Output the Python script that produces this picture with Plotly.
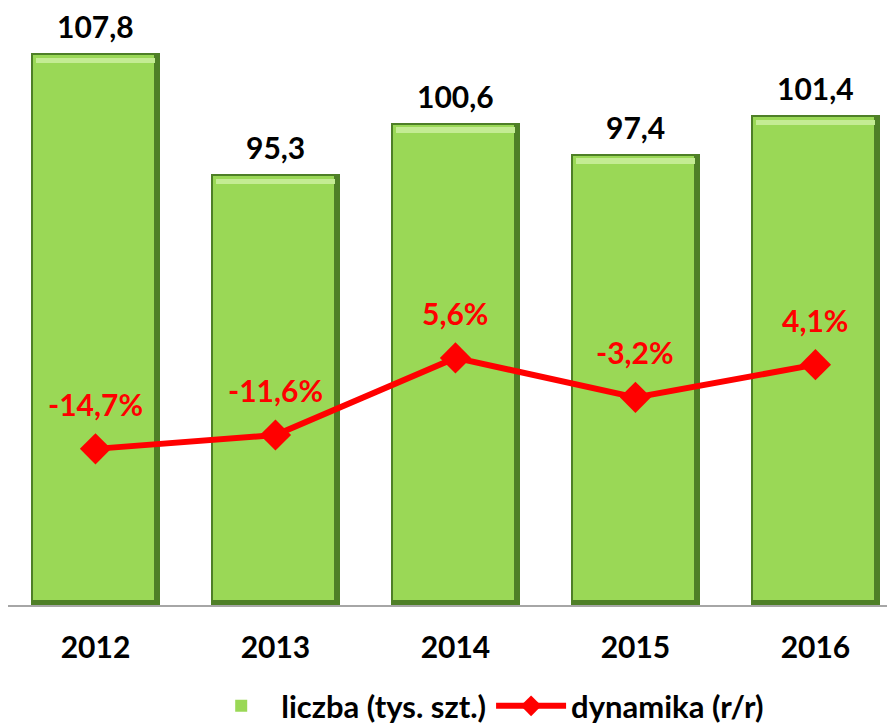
import plotly.graph_objects as go

years = ["2012", "2013", "2014", "2015", "2016"]
counts = [107.8, 95.3, 100.6, 97.4, 101.4]
growth = [-14.7, -11.6, 5.6, -3.2, 4.1]

Y_MIN, Y_MAX = 50.8, 112.27
Y2_MIN, Y2_MAX = -49.55, 83.26
BAR_W = 0.717
FONT = "Lato"

def fmt(v, suffix=""):
    return f"{v:.1f}".replace(".", ",") + suffix

fig = go.Figure()

# dark outer bar (edge / shadow)
fig.add_trace(go.Bar(x=years, y=[c - Y_MIN for c in counts], base=Y_MIN,
                     width=BAR_W, marker=dict(color="#4E7F27", line=dict(width=0)),
                     showlegend=False, hoverinfo="skip"))
# main body
fig.add_trace(go.Bar(x=years, y=[c - Y_MIN - 0.75 for c in counts], base=Y_MIN + 0.55,
                     width=BAR_W - 0.045, offset=-BAR_W / 2 + 0.012,
                     marker=dict(color="#9AD856", line=dict(width=0)),
                     name="liczba (tys. szt.)", showlegend=True))
# top highlight
fig.add_trace(go.Bar(x=years, y=[0.55] * len(years), base=[c - 1.0 for c in counts],
                     width=BAR_W - 0.06, offset=-BAR_W / 2 + 0.03,
                     marker=dict(color="#C4EC93", line=dict(width=0)),
                     showlegend=False, hoverinfo="skip"))

fig.add_trace(go.Scatter(x=years, y=growth, yaxis="y2", mode="lines+markers",
                         line=dict(color="#FF0000", width=6),
                         marker=dict(symbol="diamond", size=24, color="#FF0000"),
                         name="dynamika (r/r)"))

annotations = []
for i, c in enumerate(counts):
    annotations.append(dict(x=i, y=c, xref="x", yref="y", text="<b>" + fmt(c) + "</b>",
                            showarrow=False, yshift=27,
                            font=dict(family=FONT, size=30, color="#000000")))
for i, g in enumerate(growth):
    annotations.append(dict(x=i, y=g, xref="x", yref="y2", text="<b>" + fmt(g, "%") + "</b>",
                            showarrow=False, yshift=45,
                            font=dict(family=FONT, size=30, color="#FF0000")))

hidden_axis = dict(showgrid=False, zeroline=False, showline=False, showticklabels=False, ticks="")

fig.update_layout(
    width=887, height=717,
    margin=dict(l=0, r=0, t=2, b=120, autoexpand=False),
    paper_bgcolor="white", plot_bgcolor="white",
    barmode="overlay", bargap=0,
    showlegend=True,
    legend=dict(orientation="h", x=0.538, xanchor="center", y=-0.17, yanchor="middle",
                font=dict(family=FONT, size=31, color="#000000", weight="bold"),
                itemwidth=70, traceorder="normal"),
    xaxis=dict(type="category", range=[-0.486, 4.442], showgrid=False, showline=True,
               linecolor="#A6A6A6", linewidth=2, ticks="outside", ticklen=15,
               tickcolor="rgba(0,0,0,0)",
               tickfont=dict(family=FONT, size=30, color="#000000", weight="bold")),
    yaxis=dict(range=[Y_MIN, Y_MAX], **hidden_axis),
    yaxis2=dict(range=[Y2_MIN, Y2_MAX], overlaying="y", side="right", **hidden_axis),
    annotations=annotations,
)

fig.write_html("out.html")
